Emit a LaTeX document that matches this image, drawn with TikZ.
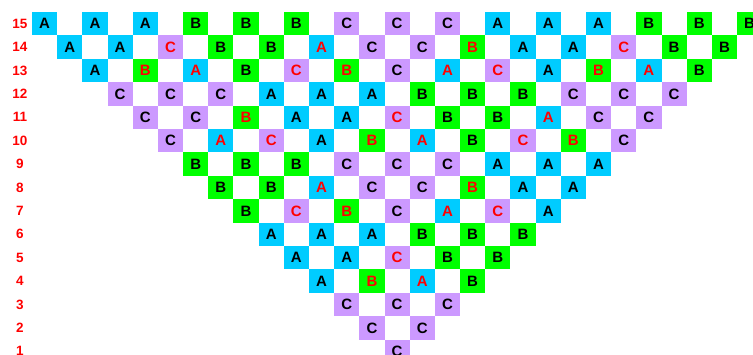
\documentclass[tikz,border=0pt]{standalone}
\usepackage{fontspec}
\setmainfont{Liberation Sans}
\definecolor{colA}{RGB}{0,204,255}
\definecolor{colB}{RGB}{0,255,0}
\definecolor{colC}{RGB}{204,153,255}
\definecolor{txtk}{RGB}{0,0,0}
\definecolor{txtr}{RGB}{255,0,0}
\begin{document}
\begin{tikzpicture}[x=1pt,y=1pt,
  cell/.style={minimum width=25.18pt,minimum height=23.4pt,inner sep=0pt,
    font=\fontsize{15}{15}\selectfont\bfseries},
  rowlabel/.style={inner sep=0pt,text=txtr,font=\fontsize{13.5}{13.5}\selectfont\bfseries}]
\useasboundingbox (0,0) rectangle (753,-354);
\foreach \r/\lst in {
 15/{A/k,A/k,A/k,B/k,B/k,B/k,C/k,C/k,C/k,A/k,A/k,A/k,B/k,B/k,B/k},
 14/{A/k,A/k,C/r,B/k,B/k,A/r,C/k,C/k,B/r,A/k,A/k,C/r,B/k,B/k},
 13/{A/k,B/r,A/r,B/k,C/r,B/r,C/k,A/r,C/r,A/k,B/r,A/r,B/k},
 12/{C/k,C/k,C/k,A/k,A/k,A/k,B/k,B/k,B/k,C/k,C/k,C/k},
 11/{C/k,C/k,B/r,A/k,A/k,C/r,B/k,B/k,A/r,C/k,C/k},
 10/{C/k,A/r,C/r,A/k,B/r,A/r,B/k,C/r,B/r,C/k},
 9/{B/k,B/k,B/k,C/k,C/k,C/k,A/k,A/k,A/k},
 8/{B/k,B/k,A/r,C/k,C/k,B/r,A/k,A/k},
 7/{B/k,C/r,B/r,C/k,A/r,C/r,A/k},
 6/{A/k,A/k,A/k,B/k,B/k,B/k},
 5/{A/k,A/k,C/r,B/k,B/k},
 4/{A/k,B/r,A/r,B/k},
 3/{C/k,C/k,C/k},
 2/{C/k,C/k},
 1/{C/k}}
{
  \pgfmathsetmacro{\yc}{-(12+(15-\r)*23.4+11.7)}
  \node[rowlabel] (lab-\r) at (20,\yc) {\r};
  \foreach \L/\c [count=\i from 0] in \lst {
    \pgfmathsetmacro{\xc}{32+25.18*((15-\r)+2*\i)+12.59}
    \node[cell,fill=col\L,text=txt\c] (c-\r-\i) at (\xc,\yc) {\L};
  }
}
\end{tikzpicture}
\end{document}
